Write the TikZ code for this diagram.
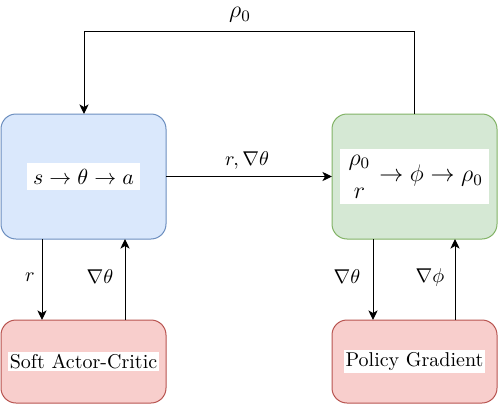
\documentclass[tikz,border=0pt]{standalone}
\usepackage{amsmath}
\usetikzlibrary{arrows.meta}
\definecolor{bluefill}{HTML}{DAE8FC}
\definecolor{bluedraw}{HTML}{6C8EBF}
\definecolor{greenfill}{HTML}{D5E8D4}
\definecolor{greendraw}{HTML}{82B366}
\definecolor{redfill}{HTML}{F8CECC}
\definecolor{reddraw}{HTML}{B85450}
\tikzset{
  box/.style={rectangle, rounded corners=7.5pt, minimum width=82.5pt, outer sep=0pt, line width=0.5pt},
  bigbox/.style={box, minimum height=62.5pt},
  smallbox/.style={box, minimum height=41.5pt},
  txt/.style={fill=white, inner sep=3pt},
  conn/.style={line width=0.5pt, -{Stealth[length=4.8pt,width=4.6pt,inset=1.3pt]}},
  lbl/.style={font=\normalsize, inner sep=0pt}
}
\begin{document}
\begin{tikzpicture}[x=0.5pt,y=-0.5pt]
\useasboundingbox (0,0) rectangle (498,407);
\node[bigbox, fill=bluefill, draw=bluedraw] (blue) at (83.5,176.5) {};
\node[bigbox, fill=greenfill, draw=greendraw] (green) at (414.5,176.5) {};
\node[smallbox, fill=redfill, draw=reddraw] (sac) at (83.5,361.5) {};
\node[smallbox, fill=redfill, draw=reddraw] (pg) at (414.5,361.5) {};
\node[txt, font=\fontsize{11.3}{13}\selectfont] (bt) at (blue) {$s\to\theta\to a$};
\node[txt, font=\fontsize{11.5}{13}\selectfont] (gt) at (green) {$\genfrac{}{}{0pt}{0}{\rho_0}{r}\to\phi\to\rho_0$};
\node[txt, inner sep=1pt] (st) at (sac) {Soft Actor-Critic};
\node[txt, inner sep=1pt] (pt) at (pg) {Policy Gradient};
\coordinate (tl) at (84,31);
\coordinate (tr) at (414,31);
\draw[conn] (tr |- green.north) -- (tr) -- (tl) -- (tl |- blue.north);
\node[lbl, font=\large] (rho) at (240,15) {$\rho_0$};
\draw[conn] (blue.east) -- (green.west);
\node[lbl] (l1) at (247,160) {$r,\nabla\theta$};
\draw[conn] (42,0 |- blue.south) -- (42,0 |- sac.north);
\draw[conn] (125,0 |- sac.north) -- (125,0 |- blue.south);
\draw[conn] (373,0 |- green.south) -- (373,0 |- pg.north);
\draw[conn] (455,0 |- pg.north) -- (455,0 |- green.south);
\node[lbl] (l2) at (30,277) {$r$};
\node[lbl] (l3) at (100,277) {$\nabla\theta$};
\node[lbl] (l4) at (347,277) {$\nabla\theta$};
\node[lbl] (l5) at (430,277) {$\nabla\phi$};
\end{tikzpicture}
\end{document}
